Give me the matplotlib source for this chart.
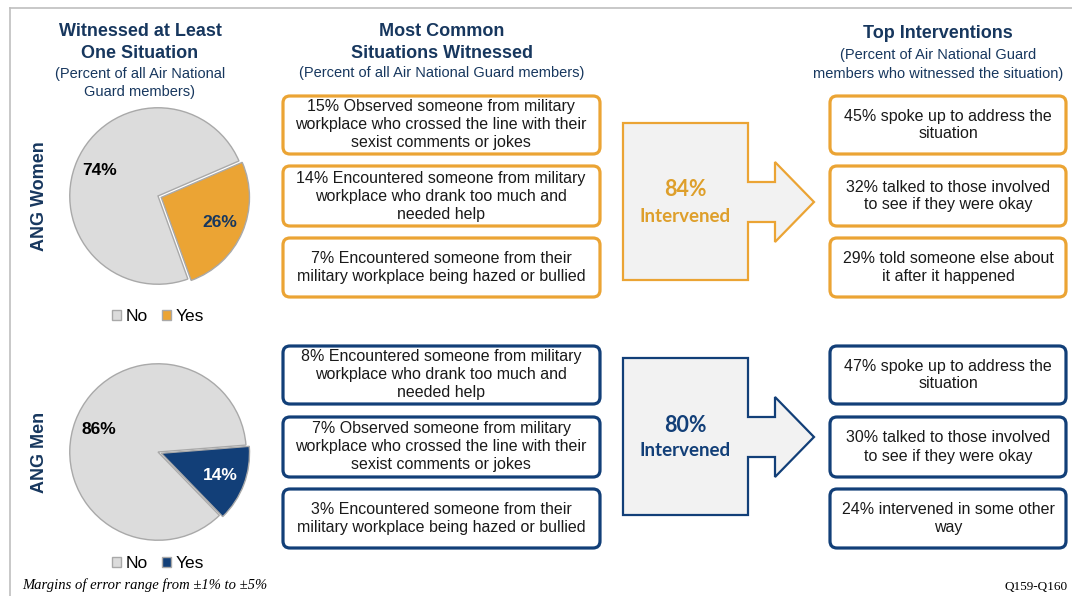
import matplotlib
matplotlib.use("Agg")
import matplotlib.pyplot as plt
from matplotlib.patches import FancyBboxPatch, Polygon

# ---------------------------------------------------------------- data
groups = ["ANG Women", "ANG Men"]
pie_labels = ["No", "Yes"]
witnessed_no = [74, 86]
witnessed_yes = [26, 14]
intervened = [84, 80]

situations_women = [
    "15% Observed someone from military\nworkplace who crossed the line with their\nsexist comments or jokes",
    "14% Encountered someone from military\nworkplace who drank too much and\nneeded help",
    "7% Encountered someone from their\nmilitary workplace being hazed or bullied",
]
situations_men = [
    "8% Encountered someone from military\nworkplace who drank too much and\nneeded help",
    "7% Observed someone from military\nworkplace who crossed the line with their\nsexist comments or jokes",
    "3% Encountered someone from their\nmilitary workplace being hazed or bullied",
]
interventions_women = [
    "45% spoke up to address the\nsituation",
    "32% talked to those involved\nto see if they were okay",
    "29% told someone else about\nit after it happened",
]
interventions_men = [
    "47% spoke up to address the\nsituation",
    "30% talked to those involved\nto see if they were okay",
    "24% intervened in some other\nway",
]

NAVY_TXT = "#17375E"
ORANGE = "#EBA434"
ORANGE_TXT = "#DE9F2B"
NAVY = "#123F78"
GREY = "#DCDCDC"
accent = [ORANGE, NAVY]
accent_txt = [ORANGE_TXT, NAVY]
yes_txt = [NAVY_TXT, "white"]
situations = [situations_women, situations_men]
interventions = [interventions_women, interventions_men]

W, H = 1072, 596
plt.rcParams["font.family"] = ["Liberation Sans", "DejaVu Sans"]
fig = plt.figure(figsize=(W / 100, H / 100), dpi=100)
ax = fig.add_axes([0, 0, 1, 1])
ax.set_xlim(0, W); ax.set_ylim(H, 0); ax.axis("off")

# frame lines
ax.plot([10, W], [8, 8], color="#BFBFBF", lw=1.2)
ax.plot([10, 10], [8, H], color="#BFBFBF", lw=1.2)

# ---------------------------------------------------------------- headers
hdr = dict(ha="center", va="center", fontsize=13, fontweight="bold", color=NAVY_TXT)
sub = dict(ha="center", va="center", fontsize=10.5, color=NAVY_TXT)
ax.text(140, 31, "Witnessed at Least", **hdr)
ax.text(140, 53, "One Situation", **hdr)
ax.text(140, 74, "(Percent of all Air National", **sub)
ax.text(140, 92, "Guard members)", **sub)
ax.text(442, 31, "Most Common", **hdr)
ax.text(442, 53, "Situations Witnessed", **hdr)
ax.text(442, 73, "(Percent of all Air National Guard members)", **sub)
ax.text(938, 34, "Top Interventions", **hdr)
ax.text(938, 55, "(Percent of Air National Guard", **sub)
ax.text(938, 74, "members who witnessed the situation)", **sub)

# ---------------------------------------------------------------- rows
pie_cy = [196, 452]
pie_start = [23.4, 4.5]
legend_dy = [-0.17, -0.12]
box_tops = [[94, 164, 236], [344, 415, 487]]
box_h = [62, 64, 63]
arrow_top = [123, 358]

for i, g in enumerate(groups):
    # row label
    ax.text(40, pie_cy[i], g, rotation=90, ha="center", va="center",
            fontsize=13, fontweight="bold", color=NAVY_TXT)

    # pie
    r = 90
    pax = fig.add_axes([(158 - r) / W, (H - pie_cy[i] - r) / H, 2 * r / W, 2 * r / H])
    vals = [witnessed_no[i], witnessed_yes[i]]
    wedges, _, autotexts = pax.pie(
        vals, colors=[GREY, accent[i]], startangle=pie_start[i], explode=[0, 0.04],
        autopct=lambda p: f"{p:.0f}%", pctdistance=0.72,
        wedgeprops=dict(edgecolor="#A9A9A9", linewidth=1.0),
        textprops=dict(fontsize=12.5, fontweight="bold"))
    autotexts[0].set_color("black")
    autotexts[1].set_color(yes_txt[i])
    pax.set_xlim(-1.02, 1.02); pax.set_ylim(-1.02, 1.02)
    for w in wedges:
        w.set_clip_on(False)
    pax.legend(wedges, pie_labels, loc="center", ncol=2, frameon=False,
               bbox_to_anchor=(0.5, legend_dy[i]), fontsize=12.5, handlelength=0.55,
               handleheight=0.55, handletextpad=0.25, columnspacing=0.8)

    # situation boxes
    for j, txt in enumerate(situations[i]):
        y0 = box_tops[i][j]
        ax.add_patch(FancyBboxPatch((283, y0 + 2), 317, box_h[j] - 4,
                                    boxstyle="round,pad=0,rounding_size=7",
                                    fc="white", ec=accent[i], lw=2.3))
        ax.text(441, y0 + box_h[j] / 2, txt, ha="center", va="center",
                fontsize=11.5, color="#1A1A1A", linespacing=1.25)

    # intervention boxes
    for j, txt in enumerate(interventions[i]):
        y0 = box_tops[i][j]
        ax.add_patch(FancyBboxPatch((830, y0 + 2), 236, box_h[j] - 4,
                                    boxstyle="round,pad=0,rounding_size=7",
                                    fc="white", ec=accent[i], lw=2.3))
        ax.text(948, y0 + box_h[j] / 2, txt, ha="center", va="center",
                fontsize=11.5, color="#1A1A1A", linespacing=1.25)

    # arrow
    t = arrow_top[i]
    pts = [(623, t), (748, t), (748, t + 59), (775, t + 59), (775, t + 39),
           (814, t + 79), (775, t + 119), (775, t + 99), (748, t + 99),
           (748, t + 157), (623, t + 157)]
    ax.add_patch(Polygon(pts, closed=True, fc="#F2F2F2", ec=accent[i], lw=1.6))
    ax.text(685, t + 67, f"{intervened[i]}%", ha="center", va="center",
            fontsize=15.5, fontweight="bold", color=accent_txt[i], family="Lato")
    ax.text(685, t + 93, "Intervened", ha="center", va="center",
            fontsize=13.5, fontweight="bold", color=accent_txt[i], family="Lato")

# ---------------------------------------------------------------- footer
ax.text(22, 585, "Margins of error range from \u00b11% to \u00b15%", ha="left",
        va="center", fontsize=10.5, style="italic", family="Liberation Serif")
ax.text(1068, 587, "Q159-Q160", ha="right", va="center", fontsize=9.5,
        family="Liberation Serif")

fig.savefig("out.png", dpi=100)
